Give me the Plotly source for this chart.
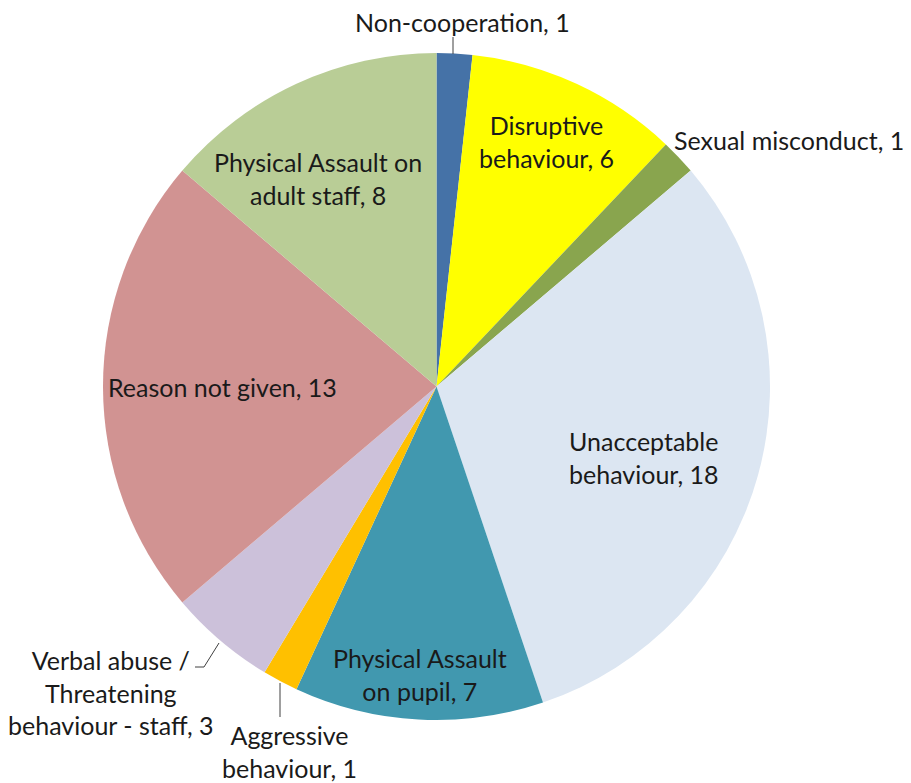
import plotly.graph_objects as go

# ---- data ----
labels = [
    "Non-cooperation",
    "Disruptive behaviour",
    "Sexual misconduct",
    "Unacceptable behaviour",
    "Physical Assault on pupil",
    "Aggressive behaviour",
    "Verbal abuse / Threatening behaviour - staff",
    "Reason not given",
    "Physical Assault on adult staff",
]
values = [1, 6, 1, 18, 7, 1, 3, 13, 8]

# display text for each label (with line breaks)
label_text = [
    "Non-cooperation, 1",
    "Disruptive<br>behaviour, 6",
    "Sexual misconduct, 1",
    "Unacceptable<br>behaviour, 18",
    "Physical Assault<br>on pupil, 7",
    "Aggressive<br>behaviour, 1",
    "Verbal abuse /<br>Threatening<br>behaviour - staff, 3",
    "Reason not given, 13",
    "Physical Assault on<br>adult staff, 8",
]

# ---- styles ----
colors = ["#4572A7", "#FFFF00", "#89A54E", "#DCE6F2", "#4198AF",
          "#FFC000", "#CCC1DA", "#D19392", "#B9CD96"]

OFF = 8  # page body margin in the browser
W, H = 911 - OFF, 783 - OFF
FONT = "Lato"
FSIZE = 25

# label centre positions in window pixels (x, y)
label_pos = [
    (462, 22), (546, 141), (789, 140), (644, 457), (420, 674),
    (289, 751), (111, 692), (222, 387), (318, 178),
]

# leader line pixel paths (window pixels)
leaders = [
    [(453, 37), (453, 54)],
    [(280, 683), (280, 717)],
    [(219, 643), (204, 667), (195, 667)],
]


def px(x, y):
    return (x - OFF) / W, 1 - (y - OFF) / H


# pie geometry (window pixels)
cx, cy, r = 436.5, 386.5, 333.5
x0p, y1p = px(cx - r, cy - r)
x1p, y0p = px(cx + r, cy + r)

fig = go.Figure(
    go.Pie(
        labels=labels,
        values=values,
        sort=False,
        direction="clockwise",
        rotation=0,
        marker=dict(colors=colors, line=dict(width=0)),
        textinfo="none",
        hoverinfo="label+value",
        domain=dict(x=[x0p, x1p], y=[y0p, y1p]),
        showlegend=False,
    )
)

annotations = []
for txt, (x, y) in zip(label_text, label_pos):
    ax, ay = px(x, y)
    annotations.append(dict(
        x=ax, y=ay, xref="paper", yref="paper", text=txt,
        showarrow=False, xanchor="center", yanchor="middle", align="center",
        font=dict(family=FONT, size=FSIZE, color="#1a1a1a"),
    ))

shapes = []
for path in leaders:
    for (xa, ya), (xb, yb) in zip(path[:-1], path[1:]):
        p0 = px(xa, ya)
        p1 = px(xb, yb)
        shapes.append(dict(type="line", xref="paper", yref="paper",
                           x0=p0[0], y0=p0[1], x1=p1[0], y1=p1[1],
                           line=dict(color="#404040", width=1)))

fig.update_layout(
    width=W, height=H,
    margin=dict(l=0, r=0, t=0, b=0),
    paper_bgcolor="white",
    plot_bgcolor="white",
    annotations=annotations,
    shapes=shapes,
)

fig.write_html("out.html")
